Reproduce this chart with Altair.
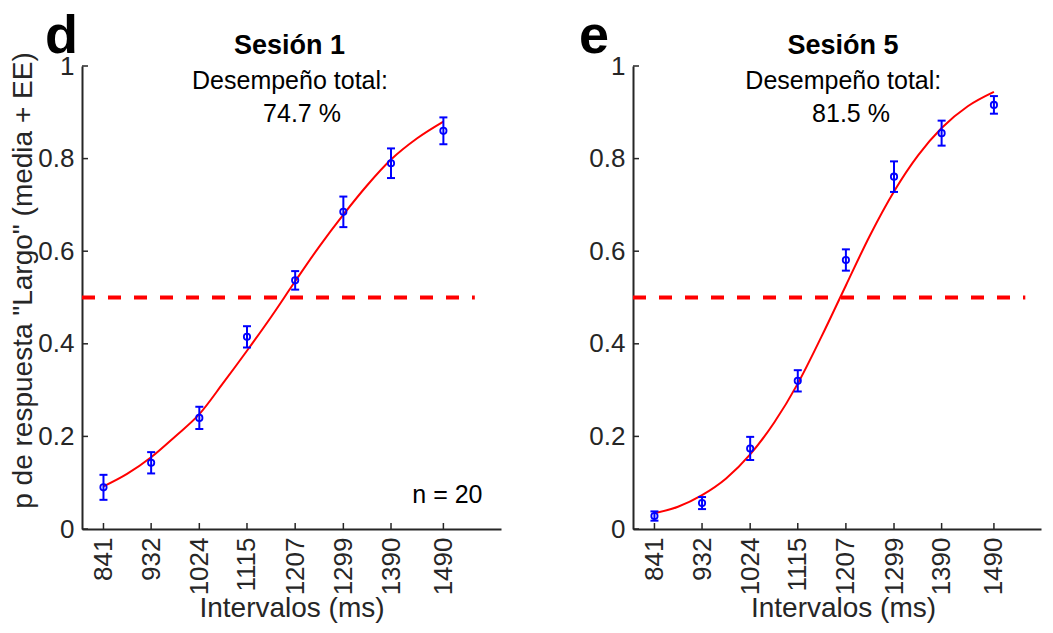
import altair as alt
import pandas as pd

# ---------------- data ----------------
intervals = [841, 932, 1024, 1115, 1207, 1299, 1390, 1490]

s1_mean = [0.090, 0.143, 0.240, 0.415, 0.537, 0.685, 0.790, 0.860]
s1_se = [0.027, 0.023, 0.024, 0.023, 0.020, 0.033, 0.032, 0.029]
s5_mean = [0.028, 0.056, 0.174, 0.320, 0.581, 0.761, 0.855, 0.916]
s5_se = [0.010, 0.013, 0.025, 0.023, 0.023, 0.033, 0.027, 0.019]

fit_x = [841, 886, 932, 978, 1024, 1070, 1115, 1161, 1207, 1253, 1299, 1345, 1390, 1440, 1490]
s1_fit = [0.092, 0.119, 0.155, 0.200, 0.248, 0.316, 0.385, 0.458, 0.535, 0.610, 0.679, 0.743, 0.798, 0.844, 0.880]
s5_fit = [0.034, 0.048, 0.073, 0.109, 0.161, 0.230, 0.314, 0.417, 0.526, 0.634, 0.729, 0.807, 0.866, 0.913, 0.944]

y_ticks = [0, 0.2, 0.4, 0.6, 0.8, 1.0]
chance_x = [800, 1550]
chance_y = [0.5, 0.5]

panel_letters = ["d", "e"]
panel_titles = ["Sesión 1", "Sesión 5"]
perf_label = "Desempeño total:"
perf_values = ["74.7 %", "81.5 %"]
n_label = "n = 20"
x_title = "Intervalos (ms)"
y_title = 'p de respuesta "Largo" (media + EE)'

# ---------------- styling ----------------
FONT = "Liberation Sans"
AX = "#262626"
BLUE = "#0000FF"
RED = "#FF0000"
H = 463


def panel(mean, se, fit, letter, title, perf, xmax, width, idx):
    pts = pd.DataFrame({
        "x": intervals,
        "m": mean,
        "lo": [m - s for m, s in zip(mean, se)],
        "hi": [m + s for m, s in zip(mean, se)],
    })
    fit_df = pd.DataFrame({"x": fit_x, "m": fit})
    chance_df = pd.DataFrame({"x": chance_x, "m": chance_y})
    yt_df = pd.DataFrame({"v": y_ticks})
    xt_df = pd.DataFrame({"x": intervals})

    xs = alt.Scale(domain=[800, xmax], nice=False, zero=False)
    ys = alt.Scale(domain=[0, 1], nice=False, zero=False)

    xaxis_kw = dict(
        values=intervals, format="d", labelAngle=270, labelAlign="right",
        labelBaseline="middle", labelPadding=8, ticks=False, tickSize=0,
        grid=False, domainColor=AX, domainWidth=2, labelColor=AX,
        labelFont=FONT, labelFontSize=26, labelOverlap=False,
        title=x_title, titleFont=FONT, titleFontSize=28,
        titleFontWeight="normal", titleColor=AX, titleX=210 if idx else 209.5,
        titleY=87, titleBaseline="alphabetic", titleAlign="center",
    )
    yaxis_kw = dict(
        values=y_ticks, format="~g", ticks=False, tickSize=0, labelPadding=8,
        grid=False, domainColor=AX, domainWidth=2, labelColor=AX,
        labelFont=FONT, labelFontSize=26, labelOverlap=False,
    )
    if idx == 0:
        yaxis_kw.update(
            title=y_title, titleFont=FONT, titleFontSize=28,
            titleFontWeight="normal", titleColor=AX, titleAngle=270,
            titleX=-51, titleY=214, titleAlign="center",
            titleBaseline="alphabetic",
        )
    else:
        yaxis_kw.update(title="")
    xaxis = alt.Axis(**xaxis_kw)
    yaxis = alt.Axis(**yaxis_kw)

    def X(f):
        return alt.X(f, type="quantitative", scale=xs, axis=xaxis)

    def Y(f):
        return alt.Y(f, type="quantitative", scale=ys, axis=yaxis)

    chance = alt.Chart(chance_df).mark_line(
        color=RED, strokeWidth=4, strokeDash=[13, 13], strokeCap="butt"
    ).encode(x=X("x"), y=Y("m"))

    curve = alt.Chart(fit_df).mark_line(
        color=RED, strokeWidth=2, interpolate="monotone"
    ).encode(x=X("x"), y=Y("m"))

    bars = alt.Chart(pts).mark_rule(color=BLUE, strokeWidth=2).encode(
        x=X("x"), y=Y("lo"), y2="hi"
    )
    cap_lo = alt.Chart(pts).mark_tick(
        orient="horizontal", size=8, thickness=2, color=BLUE, opacity=1
    ).encode(x=X("x"), y=Y("lo"))
    cap_hi = alt.Chart(pts).mark_tick(
        orient="horizontal", size=8, thickness=2, color=BLUE, opacity=1
    ).encode(x=X("x"), y=Y("hi"))
    dots = alt.Chart(pts).mark_point(
        shape="circle", filled=False, size=40, strokeWidth=1.8,
        color=BLUE, opacity=1
    ).encode(x=X("x"), y=Y("m"))

    ytk = alt.Chart(yt_df).mark_rule(color=AX, strokeWidth=1.5).encode(
        y=Y("v"), x=alt.value(0), x2=alt.value(6)
    )
    xtk = alt.Chart(xt_df).mark_rule(color=AX, strokeWidth=1.5).encode(
        x=X("x"), y=alt.value(H), y2=alt.value(H - 6)
    )

    one = alt.Data(values=[{"k": 1}])
    cx_title = 210 if idx else 207.5
    cx_desc = 210.3 if idx else 208
    cx_perf = 218 if idx else 220
    t_title = alt.Chart(one).mark_text(
        text=title, font=FONT, fontSize=27, fontWeight="bold", color="black",
        align="center", baseline="alphabetic", x=cx_title, y=-12
    ).encode(opacity=alt.value(1))
    t_desc = alt.Chart(one).mark_text(
        text=perf_label, font=FONT, fontSize=25, color="black",
        align="center", baseline="alphabetic", x=cx_desc, y=23.3
    ).encode(opacity=alt.value(1))
    t_perf = alt.Chart(one).mark_text(
        text=perf, font=FONT, fontSize=25, color="black",
        align="center", baseline="alphabetic", x=cx_perf, y=56
    ).encode(opacity=alt.value(1))
    t_letter = alt.Chart(one).mark_text(
        text=letter, font=FONT, fontSize=54, fontWeight="bold", color="black",
        align="left", baseline="alphabetic", x=-54 if idx else -37, y=-13
    ).encode(opacity=alt.value(1))

    layers = [chance, curve, bars, cap_lo, cap_hi, dots, ytk, xtk,
              t_title, t_desc, t_perf, t_letter]
    if idx == 0:
        t_n = alt.Chart(one).mark_text(
            text=n_label, font=FONT, fontSize=25, color="black",
            align="right", baseline="alphabetic", x=400.5, y=437.3
        ).encode(opacity=alt.value(1))
        layers.append(t_n)

    return alt.layer(*layers).properties(width=width, height=H)


left = panel(s1_mean, s1_se, s1_fit, panel_letters[0], panel_titles[0],
             perf_values[0], 1600, 419, 0)
right = panel(s5_mean, s5_se, s5_fit, panel_letters[1], panel_titles[1],
              perf_values[1], 1580, 408, 1)

chart = alt.hconcat(left, right, spacing=132, bounds="flush").properties(
    padding={"left": 0, "top": 1, "right": 0, "bottom": 0},
    background="white",
).configure_view(stroke="transparent")

chart.save("out.html", embed_options={"renderer": "svg", "actions": False})
